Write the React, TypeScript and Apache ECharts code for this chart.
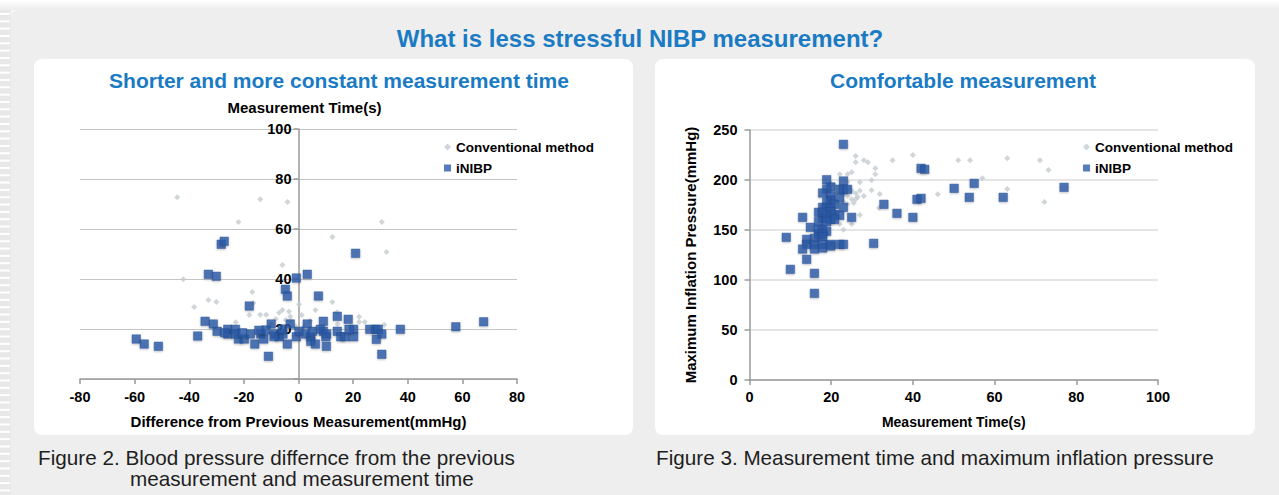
import React, { useEffect, useRef } from "react";
import * as echarts from "echarts";

// ---------- DATA ----------
const seriesNames = ["Conventional method", "iNIBP"];

// Figure 2: [difference from previous measurement (mmHg), measurement time (s)]
const diffConventional: [number, number][] = [
  [-44.4, 72.7], [-14, 71.9], [-4, 70.8], [-22, 62.8], [-42.2, 39.9], [-5.9, 45.6],
  [-38.2, 28.8], [-33, 31.6], [-30.1, 30.8], [-16.9, 34.8], [-16.5, 30.4], [-23, 22.7],
  [-18, 25.6], [-14, 25.7], [-11.8, 25.7], [-7.1, 26.5], [-5.9, 27.6], [-3.5, 27],
  [-3, 25], [0.2, 29.9], [1.2, 25.6], [-3, 23.5], [-8.3, 24], [-4.7, 23.6], [6.2, 27.6],
  [4.3, 23.3], [12.4, 56.8], [12.4, 30.8], [14.1, 26.7], [14.3, 21.9], [22.2, 24.9],
  [22.2, 22.8], [24.3, 22.8], [30.5, 62.8], [32.2, 50.8], [31.4, 21.7], [8.7, 19.6],
  [-1, 21], [-10, 22], [2, 21],
];
const diffINIBP: [number, number][] = [
  [-59.4, 16], [-56.5, 14], [-51.3, 13.1], [-36.9, 17.2], [-34.2, 23.1], [-33, 41.9],
  [-30.1, 41.1], [-31.2, 22], [-29.8, 19.1], [-28.3, 53.9], [-27.2, 55.1], [-25.9, 19.9],
  [-25.9, 18], [-23.1, 19.9], [-23.1, 18], [-22, 16], [-19.8, 16], [-18, 29.2], [-17.6, 18],
  [-16, 14], [-13.8, 18], [-12.7, 16], [-11, 9.1], [-10, 22], [-11.9, 19.6], [-8.6, 18],
  [-7.1, 16.9], [-5.7, 18], [-4.8, 35.9], [-4.1, 33.2], [-4.1, 14], [-3, 22], [-0.8, 40.4],
  [-0.8, 16.9], [0.2, 19.1], [3.2, 41.9], [3.2, 22], [2.6, 18], [4.5, 16.9], [4.5, 15.1],
  [6.2, 14], [5.1, 19.1], [7.3, 33.2], [9.1, 23.1], [8, 19.9], [9.1, 19.1], [10.3, 18],
  [10, 16.9], [10.2, 13.1], [14.2, 25.1], [14.2, 19.1], [15.5, 16.9], [17, 16.9],
  [18.2, 23.9], [20.2, 19.9], [20.2, 16.9], [20.9, 50.3], [18.5, 19.9], [26.1, 19.9],
  [28.3, 19.9], [29.2, 19.9], [30.5, 18], [28.5, 15.9], [30.5, 9.9], [37.3, 19.9],
  [57.6, 20.9], [67.8, 22.9], [-9, 17], [-14.5, 19.5], [-20.5, 18.5], [-27, 18.5], [-6, 20],
];

// Figure 3: [measurement time (s), maximum inflation pressure (mmHg)]
const timeConventional: [number, number][] = [
  [26, 224], [26, 217.7], [28, 219.7], [29, 217.7], [35, 219.7], [40, 225], [51.1, 219.7],
  [54, 219.7], [63.1, 221.7], [71.1, 219.7], [73.2, 210], [57, 201.7], [46.1, 185.7],
  [63.1, 191], [72.2, 178], [30.8, 211.7], [30.8, 205.7], [22.1, 205.7], [24, 205.7],
  [25, 207.7], [27, 197.7], [29.9, 199.7], [29.9, 189.7], [31.9, 186], [31.7, 172],
  [25, 189.3], [26, 186.7], [27, 189.3], [28, 184], [24, 184], [25, 180.7], [26, 180.7],
  [23, 178.3], [24, 176], [27, 165], [25, 156], [22.1, 156], [23, 150.3], [19.9, 196.7],
  [20.8, 195], [24, 198.3], [24.5, 192], [23, 186], [26.5, 183], [25.5, 177],
];
const timeINIBP: [number, number][] = [
  [23, 235.7], [18.9, 200.3], [23, 199], [19.9, 193], [18.9, 191], [22.1, 190.7], [23, 190.7],
  [24, 190.7], [17.9, 187], [19.9, 184], [22.1, 182], [19.9, 180], [18.9, 178], [20.8, 175.7],
  [17.9, 172.7], [18.9, 172.7], [19.9, 171.3], [23, 172.7], [16.9, 167.7], [17.9, 167.7],
  [19.9, 168.3], [20.8, 165.7], [22.1, 164.7], [13, 162.7], [25, 162.7], [17.9, 161.7],
  [18.9, 162.7], [19.9, 160.7], [20.8, 160.7], [16.9, 158.3], [18.9, 158.3], [14.9, 152.7],
  [16.9, 150.7], [17.9, 150.7], [18.9, 148.7], [16.9, 145.7], [17.9, 145.7], [9, 142.7],
  [15.9, 141.7], [17.9, 143.3], [14, 140.7], [14, 135.7], [15.9, 135.7], [17.9, 135.7],
  [19.9, 135.7], [22.1, 135.7], [23, 135.7], [30.4, 136.7], [13, 131], [15.9, 131], [17.9, 132],
  [19.9, 134], [14, 120.7], [10, 110.7], [15.9, 106.7], [15.9, 86.7], [32.9, 175.7],
  [36.1, 166.7], [40, 162.7], [41, 180.7], [42, 181.7], [42, 211.7], [42.9, 210.7],
  [50.1, 191.7], [53.8, 182.7], [55, 196.7], [62.1, 182.7], [77, 192.7],
];

const mainTitle = "What is less stressful NIBP measurement?";
const leftTitle = "Shorter and more constant measurement time";
const rightTitle = "Comfortable measurement";
const leftYName = "Measurement Time(s)";
const leftXName = "Difference from Previous Measurement(mmHg)";
const rightYName = "Maximum Inflation Pressure(mmHg)";
const rightXName = "Measurement Time(s)";
const caption2 = ["Figure 2. Blood pressure differnce from the previous", "measurement and measurement time"];
const caption3 = "Figure 3. Measurement time and maximum inflation pressure";

// ---------- STYLE ----------
const FONT = "'Liberation Sans', Arial, Helvetica, sans-serif";
const NARROW = "'Liberation Sans Narrow', 'Arial Narrow', 'Liberation Sans', sans-serif";
const BLUE_TITLE = "#1a7bc4";
const GRAY_PT = "#c3cacf";
const BLUE_PT = "#2a5aa8";

export default function App() {
  const ref = useRef<HTMLDivElement>(null);

  useEffect(() => {
    if (!ref.current) return;
    const chart = echarts.init(ref.current, undefined, { renderer: "svg" });

    const stripes: any[] = [];
    for (let y = 13; y < 495; y += 7.33) {
      stripes.push({ type: "rect", shape: { x: 0, y, width: 10, height: 2 }, style: { fill: "#ffffff" }, z: -9 });
    }

    const axisLineStyle = { color: "#9a9a9a", width: 1.5 };
    const boldLabel = { color: "#000", fontWeight: "bold", fontFamily: FONT };

    const convStyle = { color: GRAY_PT };
    const nibpStyle = {
      color: BLUE_PT,
      borderColor: "#214b93",
      borderWidth: 0.5,
      shadowBlur: 2,
      shadowColor: "rgba(0,0,0,0.3)",
      shadowOffsetY: 1,
    };

    const legendCommon = {
      orient: "vertical",
      top: 135,
      itemWidth: 7,
      itemHeight: 7,
      itemGap: 7,
      data: seriesNames,
      itemStyle: { shadowBlur: 0, borderWidth: 0 },
      textStyle: { ...boldLabel, fontSize: 13.5, lineHeight: 14 },
    };

    // left grid geometry: the y axis sits at x = 0 of the value axis
    const leftGridLeft = 80;
    const leftGridWidth = 437;
    const leftXMin = -80;
    const leftXMax = 80;
    const yAxisShift = -((0 - leftXMin) / (leftXMax - leftXMin)) * leftGridWidth;

    chart.setOption({
      animation: false,
      backgroundColor: "#ffffff",
      textStyle: { fontFamily: FONT },
      graphic: [
        { type: "rect", shape: { x: 0, y: 0, width: 1279, height: 495 }, style: { fill: "#f7f7f7" }, z: -10 },
        {
          type: "rect",
          shape: { x: 0, y: 0, width: 1279, height: 10 },
          style: {
            fill: new echarts.graphic.LinearGradient(0, 0, 0, 1, [
              { offset: 0, color: "#ffffff" },
              { offset: 1, color: "#ededed" },
            ]),
          },
          z: -10,
        },
        { type: "rect", shape: { x: 0, y: 10, width: 11, height: 485 }, style: { fill: "#e8e8e8" }, z: -10 },
        ...stripes,
        { type: "rect", shape: { x: 11, y: 10, width: 1268, height: 485, r: [8, 0, 0, 0] }, style: { fill: "#eeeeee" }, z: -8 },
        { type: "rect", shape: { x: 34, y: 59, width: 599, height: 376, r: 8 }, style: { fill: "#ffffff" }, z: -7 },
        { type: "rect", shape: { x: 655, y: 59, width: 600, height: 376, r: 8 }, style: { fill: "#ffffff" }, z: -7 },
        {
          type: "text", x: 640, y: 38,
          style: { text: mainTitle, fill: BLUE_TITLE, font: `bold 24px ${FONT}`, textAlign: "center", textVerticalAlign: "middle" },
        },
        {
          type: "text", x: 339, y: 80,
          style: { text: leftTitle, fill: BLUE_TITLE, font: `bold 21px ${FONT}`, textAlign: "center", textVerticalAlign: "middle" },
        },
        {
          type: "text", x: 963, y: 80,
          style: { text: rightTitle, fill: BLUE_TITLE, font: `bold 21px ${FONT}`, textAlign: "center", textVerticalAlign: "middle" },
        },
        {
          type: "text", x: 38, y: 457,
          style: { text: caption2[0], fill: "#1e1e1e", font: `20.7px ${NARROW}`, textAlign: "left", textVerticalAlign: "middle" },
        },
        {
          type: "text", x: 130, y: 478,
          style: { text: caption2[1], fill: "#1e1e1e", font: `20.7px ${NARROW}`, textAlign: "left", textVerticalAlign: "middle" },
        },
        {
          type: "text", x: 656, y: 457,
          style: { text: caption3, fill: "#1e1e1e", font: `20.7px ${NARROW}`, textAlign: "left", textVerticalAlign: "middle" },
        },
      ],
      legend: [
        { ...legendCommon, left: 439 },
        { ...legendCommon, left: 1078 },
      ],
      grid: [
        { left: leftGridLeft, top: 129, width: leftGridWidth, height: 250, containLabel: false },
        { left: 749.5, top: 130, width: 408.5, height: 250, containLabel: false },
      ],
      xAxis: [
        {
          type: "value", gridIndex: 0, min: leftXMin, max: leftXMax, interval: 20,
          name: leftXName, nameLocation: "middle", nameGap: 35,
          nameTextStyle: { ...boldLabel, fontSize: 15 },
          axisLine: { show: true, lineStyle: axisLineStyle },
          axisTick: { show: true, length: 5, lineStyle: axisLineStyle },
          axisLabel: { ...boldLabel, fontSize: 14.5, margin: 10 },
          splitLine: { show: false },
        },
        {
          type: "value", gridIndex: 1, min: 0, max: 100, interval: 20,
          name: rightXName, nameLocation: "middle", nameGap: 35,
          nameTextStyle: { ...boldLabel, fontSize: 14 },
          axisLine: { show: true, lineStyle: axisLineStyle },
          axisTick: { show: true, length: 5, lineStyle: axisLineStyle },
          axisLabel: { ...boldLabel, fontSize: 14.5, margin: 9 },
          splitLine: { show: false },
        },
      ],
      yAxis: [
        {
          type: "value", gridIndex: 0, min: 0, max: 100, interval: 20,
          position: "left", offset: yAxisShift,
          name: leftYName, nameLocation: "end", nameGap: 14,
          nameTextStyle: { ...boldLabel, fontSize: 15, padding: [0, 0, 0, 12] },
          axisLine: { show: true, onZero: false, lineStyle: axisLineStyle },
          axisTick: { show: true, length: 5, lineStyle: axisLineStyle },
          axisLabel: { ...boldLabel, fontSize: 14.5, margin: 7, formatter: (v: number) => (v === 0 ? "" : String(v)) },
          splitLine: { show: true, lineStyle: { color: "#c4c4c4", width: 1 } },
        },
        {
          type: "value", gridIndex: 1, min: 0, max: 250, interval: 50,
          name: rightYName, nameLocation: "middle", nameGap: 52,
          nameTextStyle: { ...boldLabel, fontSize: 15 },
          axisLine: { show: true, lineStyle: axisLineStyle },
          axisTick: { show: true, length: 5, lineStyle: axisLineStyle },
          axisLabel: { ...boldLabel, fontSize: 14.5, margin: 12 },
          splitLine: { show: true, lineStyle: { color: "#dcdcdc", width: 1.5 } },
        },
      ],
      series: [
        {
          type: "scatter", name: seriesNames[0], xAxisIndex: 0, yAxisIndex: 0,
          data: diffConventional, symbol: "diamond", symbolSize: 6, itemStyle: convStyle, z: 2,
        },
        {
          type: "scatter", name: seriesNames[1], xAxisIndex: 0, yAxisIndex: 0,
          data: diffINIBP, symbol: "rect", symbolSize: 8.5, itemStyle: nibpStyle, z: 3,
        },
        {
          type: "scatter", name: seriesNames[0], xAxisIndex: 1, yAxisIndex: 1,
          data: timeConventional, symbol: "diamond", symbolSize: 6, itemStyle: convStyle, z: 2,
        },
        {
          type: "scatter", name: seriesNames[1], xAxisIndex: 1, yAxisIndex: 1,
          data: timeINIBP, symbol: "rect", symbolSize: 8.5, itemStyle: nibpStyle, z: 3,
        },
      ],
    });

    return () => chart.dispose();
  }, []);

  return (
    <div
      ref={ref}
      style={{ position: "fixed", left: 0, top: 0, width: 1279, height: 495 }}
    />
  );
}
